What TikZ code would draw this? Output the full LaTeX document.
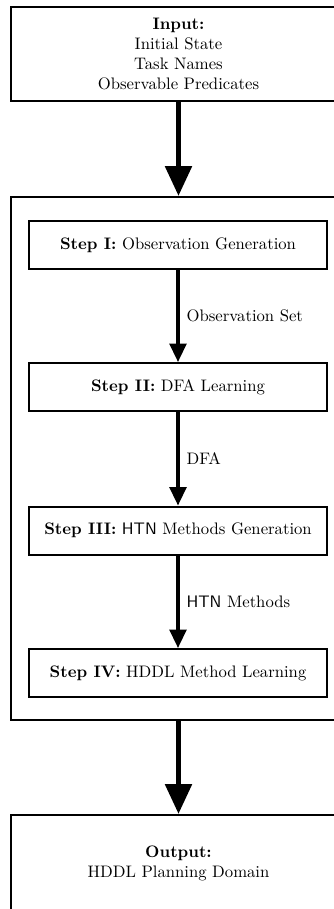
\documentclass[tikz,border=0pt]{standalone}
\usetikzlibrary{arrows.meta}
\begin{document}
\begin{tikzpicture}[x=0.6pt,y=-0.6pt,
  bigbox/.style={draw, line width=1.2pt, minimum width=201pt, align=center, inner sep=0pt},
  stepbox/.style={draw, line width=1.2pt, minimum width=178.8pt, minimum height=28.8pt, inner sep=0pt},
  bigarrow/.style={line width=3.3pt, -{Triangle[width=15.6pt,length=18pt]}},
  smallarrow/.style={line width=1.9pt, -{Triangle[width=10pt,length=11pt]}},
  lbl/.style={midway, anchor=west, xshift=4.2pt, inner sep=0pt}]
\useasboundingbox (0,0) rectangle (334,909);
\clip (0,0) rectangle (334,909);
\node[bigbox, minimum height=56.4pt] (in) at (178.5,54)
  {\textbf{Input:}\\Initial State\\Task Names\\Observable Predicates};
\node[bigbox, minimum height=313.8pt] (cont) at (178.5,458.5) {};
\node[stepbox] (s1) at (178,245) {\textbf{Step I:} Observation Generation};
\node[stepbox] (s2) at (178,387) {\textbf{Step II:} DFA Learning};
\node[stepbox] (s3) at (178,530.5) {\textbf{Step III:} \textsf{HTN} Methods Generation};
\node[stepbox] (s4) at (178,673) {\textbf{Step IV:} HDDL Method Learning};
\node[bigbox, minimum height=57.6pt] (out) at (178.5,863)
  {\textbf{Output:}\\HDDL Planning Domain};
\draw[bigarrow] (in.south) -- (cont.north);
\draw[smallarrow] (s1.south) -- node[lbl] (l1) {Observation Set} (s2.north);
\draw[smallarrow] (s2.south) -- node[lbl] (l2) {DFA} (s3.north);
\draw[smallarrow] (s3.south) -- node[lbl] (l3) {\textsf{HTN} Methods} (s4.north);
\draw[bigarrow] (cont.south) -- (out.north);
\end{tikzpicture}
\end{document}
